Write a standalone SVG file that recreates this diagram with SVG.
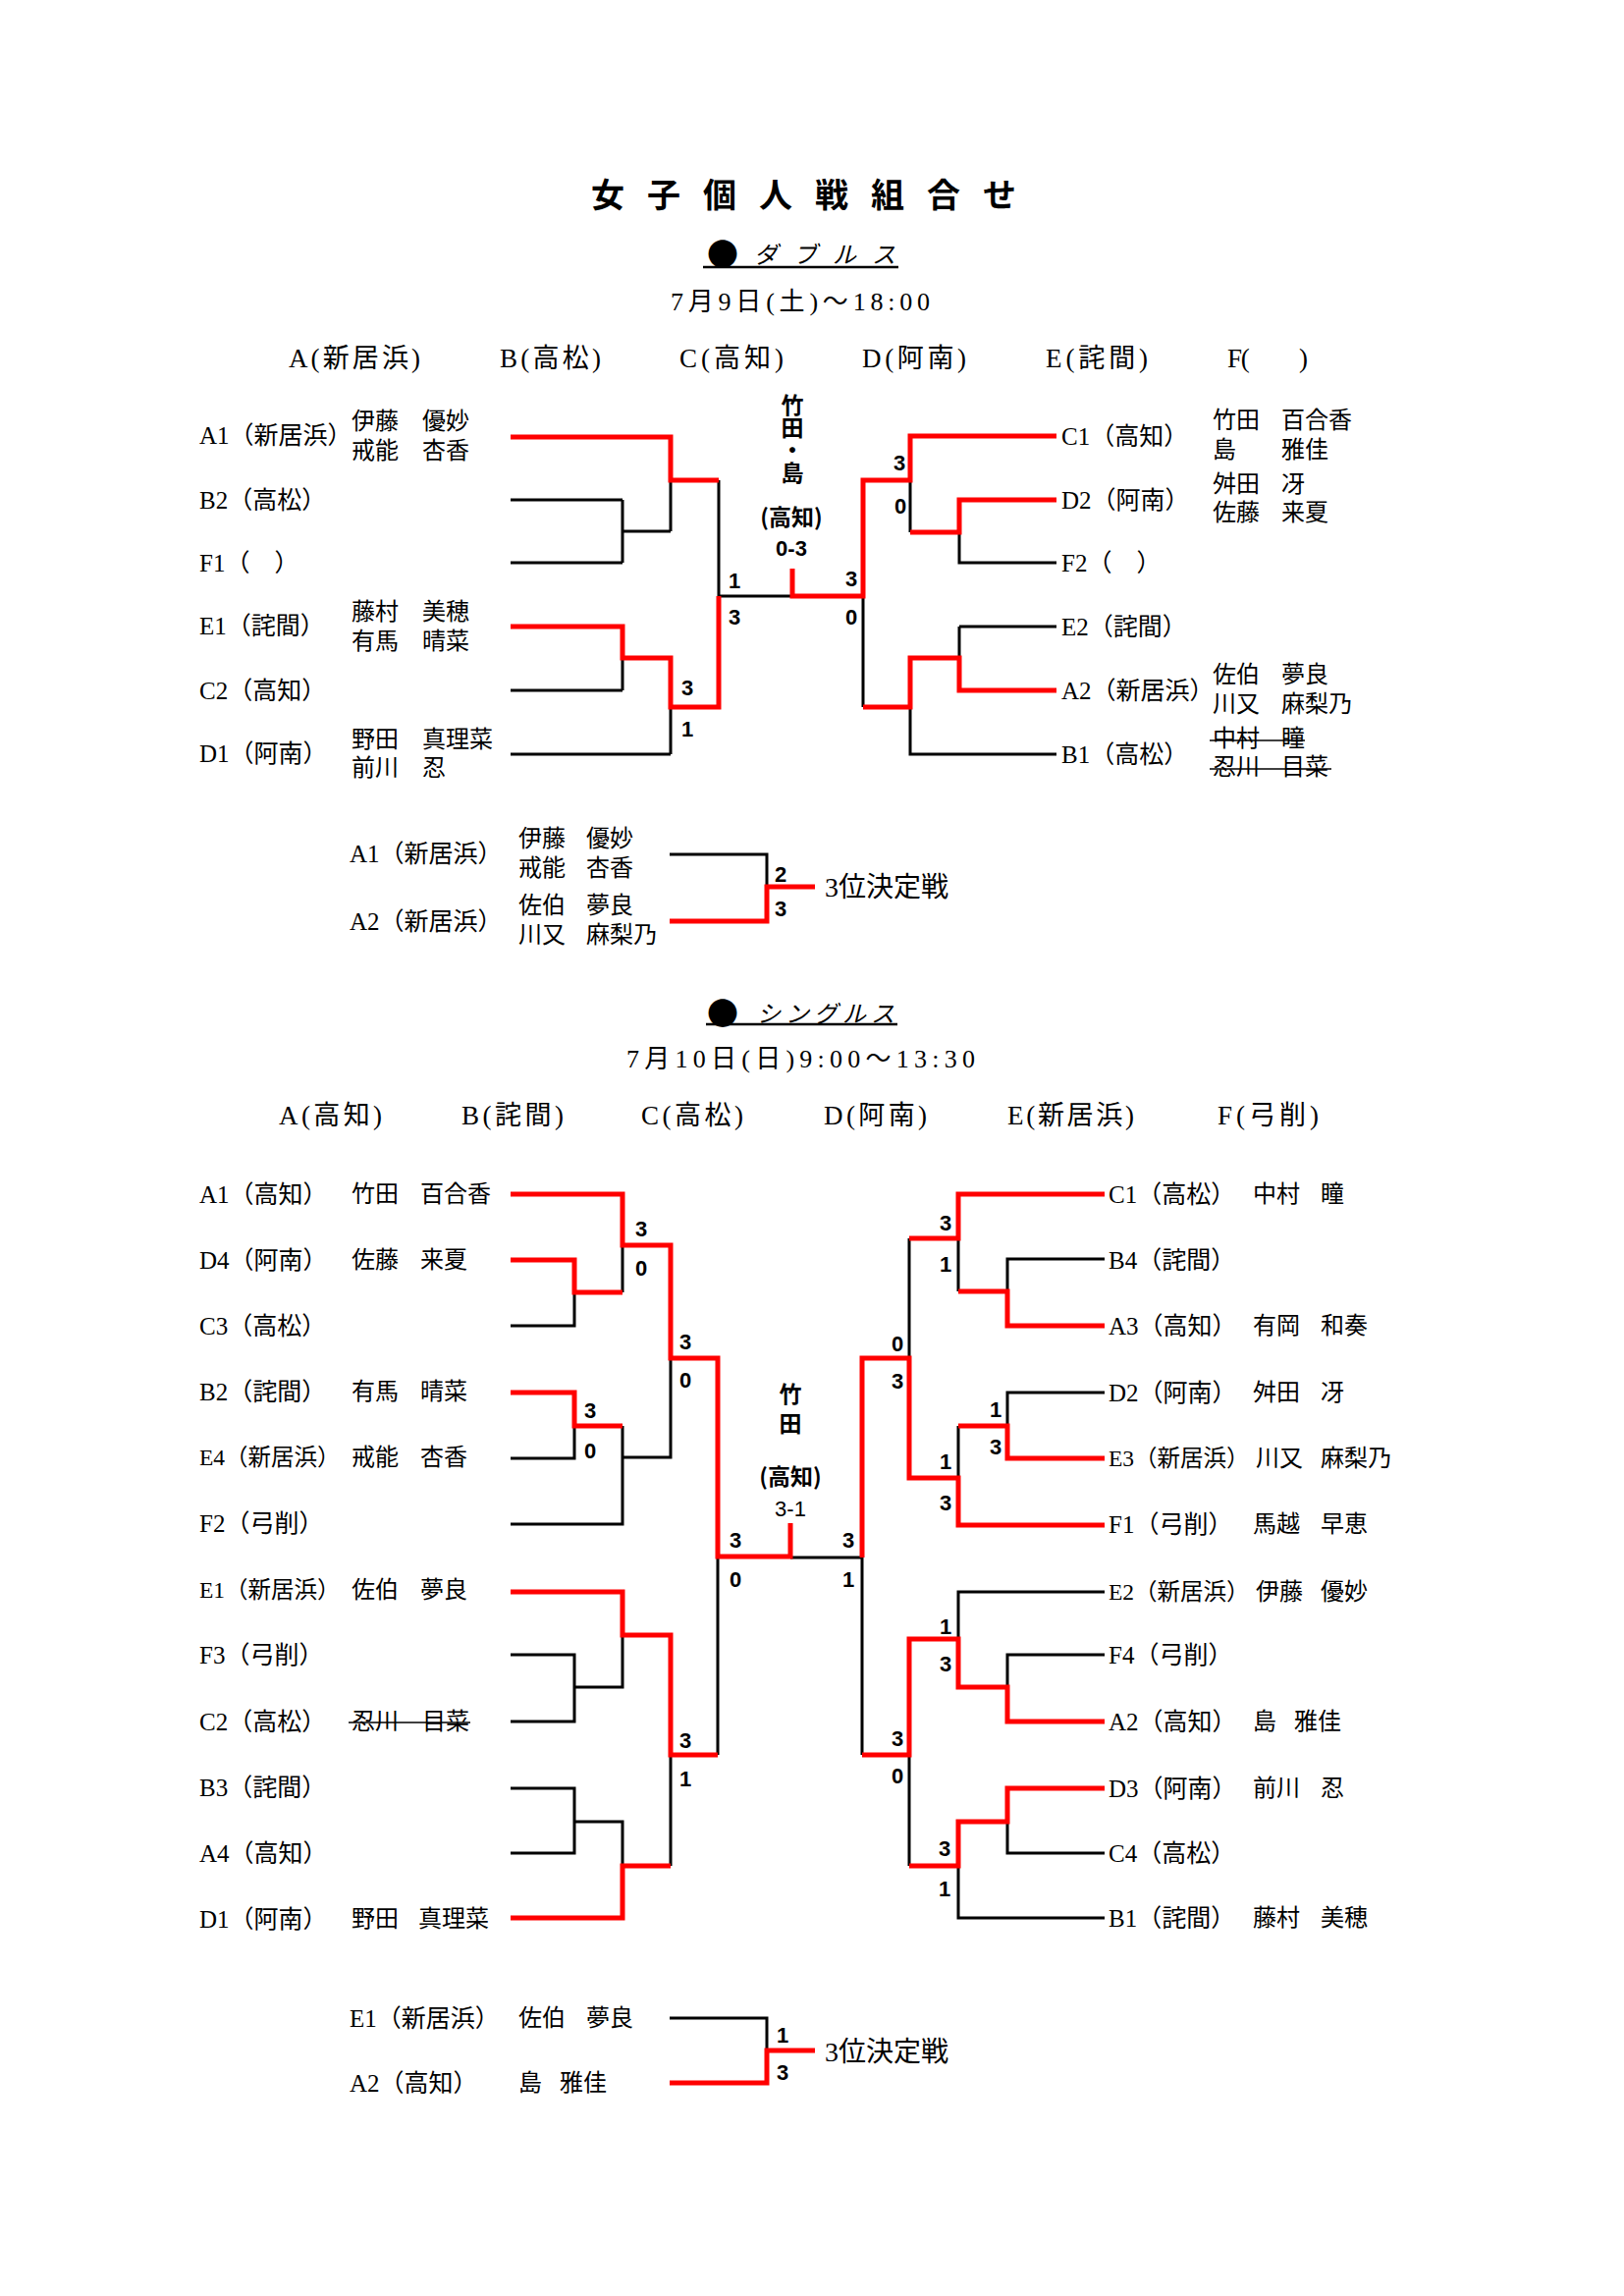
<svg xmlns="http://www.w3.org/2000/svg" width="1654" height="2338" viewBox="0 0 1654 2338">
<style>
text{font-family:"Liberation Serif","Noto Sans CJK JP",serif;fill:#000;dominant-baseline:central}
.lbl{font-size:25px}
.lbs{font-size:23.5px}
.nm{font-size:24px}
.hd{font-size:27px}
.dt{font-size:26px}
.sc{font-family:"Liberation Sans","Noto Sans CJK JP",sans-serif;font-weight:bold;font-size:22px;text-anchor:middle}
.ch{font-family:"Noto Sans CJK JP",sans-serif;font-weight:bold;font-size:23px;text-anchor:middle}
.vt{font-family:"Noto Sans CJK JP",sans-serif;font-weight:bold;font-size:23px;writing-mode:vertical-rl}
.k{fill:none;stroke:#000;stroke-width:3}
.r{fill:none;stroke:#f00;stroke-width:5}
.st{stroke:#000;stroke-width:1.6}
.sub{font-family:"Noto Sans CJK JP",sans-serif;font-size:24px;font-style:italic}
.dot{font-family:"Noto Sans CJK JP",sans-serif;font-size:32px}
.big{font-size:28px}
</style>
<rect width="1654" height="2338" fill="#fff"/>
<g id="header">
<text x="602" y="196" style="font-family:'Noto Sans CJK JP',sans-serif;font-weight:bold;font-size:34px;letter-spacing:23px">女子個人戦組合せ</text>
<text y="257"><tspan x="720" class="dot">●</tspan><tspan x="768" class="sub" style="letter-spacing:16px">ダブルス</tspan></text>
<line x1="716" y1="272" x2="915" y2="272" stroke="#000" stroke-width="2.5"/>
<text class="dt" x="683" y="307" textLength="264">7月9日(土)〜18:00</text>
<text class="hd" x="294" y="365" textLength="134">A(新居浜)</text>
<text class="hd" x="509" y="365" textLength="103">B(高松)</text>
<text class="hd" x="692" y="365" textLength="106">C(高知)</text>
<text class="hd" x="878" y="365" textLength="106">D(阿南)</text>
<text class="hd" x="1065" y="365" textLength="104">E(詫間)</text>
<text class="hd" x="1250" y="365" textLength="82">F(　　)</text>
<text y="1030"><tspan x="720" class="dot">●</tspan><tspan x="771" class="sub" style="letter-spacing:5px">シングルス</tspan></text>
<line x1="719" y1="1043" x2="914" y2="1043" stroke="#000" stroke-width="2.5"/>
<text class="dt" x="638" y="1078" textLength="355">7月10日(日)9:00〜13:30</text>
<text class="hd" x="284" y="1136" textLength="105">A(高知)</text>
<text class="hd" x="470" y="1136" textLength="104">B(詫間)</text>
<text class="hd" x="653" y="1136" textLength="104">C(高松)</text>
<text class="hd" x="839" y="1136" textLength="105">D(阿南)</text>
<text class="hd" x="1026" y="1136" textLength="129">E(新居浜)</text>
<text class="hd" x="1240" y="1136" textLength="103">F(弓削)</text>
</g>
<g id="connectors">
<path class="k" d="M520,509H634M520,573H634M634,509V573M634,541H683M683,489V541M732,489V607M732,607H807M520,703H634M634,670V703M520,768H683M683,720V768M927,489V542M977,542V573H1076M879,607V720M977,638V670M977,638H1076M927,720V768H1076M682,870H781V903"/>
<path class="r" d="M520,445H683V489H732M520,638H634V670H683V720H732V607M807,579V607H879V489H927V444H1076M1076,509H977V542H927M1076,703H977V670H927V720H879M830,903H781V938H682"/>
<path class="k" d="M520,1350H585V1316M634,1268V1316M520,1485H585V1452M520,1552H634V1452M634,1484H683V1383M520,1685H585V1753H520M585,1718H634V1665M520,1821H585V1887H520M585,1855H634V1900M683,1787V1900M731,1585V1787M805,1586H878M926,1261V1383M1125,1282H1026V1315M976,1261V1315M1125,1418H1026V1452M976,1452V1505M1125,1621H976V1669M1125,1685H1026V1718M878,1586V1787M926,1787V1900M1125,1887H1026V1855M1125,1953H976V1900M682,2055H781V2088"/>
<path class="r" d="M520,1216H634V1268H683V1383H731V1585H805V1551M520,1283H585V1316H634M520,1418H585V1452H634M520,1621H634V1665H683V1787H731M520,1953H634V1900H683M1125,1216H976V1261H926M1125,1350H1026V1315H976M1125,1485H1026V1452H976M1125,1553H976V1505H926V1383H878V1586M1125,1753H1026V1718H976V1669H926V1787H878M1125,1821H1026V1855H976V1900H926M830,2088H781V2121H682"/>
</g>
<g id="scores">
<text class="sc" x="748" y="591">1</text><text class="sc" x="748" y="628">3</text>
<text class="sc" x="700" y="700">3</text><text class="sc" x="700" y="742">1</text>
<text class="sc" x="916" y="471">3</text><text class="sc" x="917" y="515">0</text>
<text class="sc" x="867" y="589">3</text><text class="sc" x="867" y="628">0</text>
<text class="sc" x="795" y="890">2</text><text class="sc" x="795" y="925">3</text>
<text class="sc" x="653" y="1251">3</text><text class="sc" x="653" y="1291">0</text>
<text class="sc" x="698" y="1366">3</text><text class="sc" x="698" y="1405">0</text>
<text class="sc" x="601" y="1436">3</text><text class="sc" x="601" y="1477">0</text>
<text class="sc" x="749" y="1568">3</text><text class="sc" x="749" y="1608">0</text>
<text class="sc" x="698" y="1772">3</text><text class="sc" x="698" y="1811">1</text>
<text class="sc" x="963" y="1245">3</text><text class="sc" x="963" y="1287">1</text>
<text class="sc" x="914" y="1368">0</text><text class="sc" x="914" y="1406">3</text>
<text class="sc" x="1014" y="1435">1</text><text class="sc" x="1014" y="1473">3</text>
<text class="sc" x="963" y="1488">1</text><text class="sc" x="963" y="1530">3</text>
<text class="sc" x="864" y="1568">3</text><text class="sc" x="864" y="1608">1</text>
<text class="sc" x="963" y="1656">1</text><text class="sc" x="963" y="1694">3</text>
<text class="sc" x="914" y="1770">3</text><text class="sc" x="914" y="1808">0</text>
<text class="sc" x="962" y="1882">3</text><text class="sc" x="962" y="1923">1</text>
<text class="sc" x="797" y="2072">1</text><text class="sc" x="797" y="2110">3</text>
</g>
<g id="d-champion">
<text class="vt" x="807" y="401">竹田・島</text>
<text class="ch" x="806" y="525">(高知)</text>
<text class="sc" x="806" y="558">0-3</text>
</g>
<g id="s-champion">
<text class="vt" x="805" y="1408" style="letter-spacing:7px">竹田</text>
<text class="ch" x="805" y="1502">(高知)</text>
<text class="sc" x="805" y="1536" style="font-weight:normal">3-1</text>
</g>
<g id="d-A1"><text class="lbl" x="203" y="443">A1（新居浜）</text><text class="nm" y="429"><tspan x="358">伊藤 </tspan><tspan x="430">優妙</tspan></text><text class="nm" y="459"><tspan x="358">戒能 </tspan><tspan x="430">杏香</tspan></text></g>
<g id="d-B2"><text class="lbl" x="203" y="509">B2（高松）</text></g>
<g id="d-F1"><text class="lbl" x="203" y="573">F1（　）</text></g>
<g id="d-E1"><text class="lbl" x="203" y="637">E1（詫間）</text><text class="nm" y="623"><tspan x="358">藤村 </tspan><tspan x="430">美穂</tspan></text><text class="nm" y="653"><tspan x="358">有馬 </tspan><tspan x="430">晴菜</tspan></text></g>
<g id="d-C2"><text class="lbl" x="203" y="703">C2（高知）</text></g>
<g id="d-D1"><text class="lbl" x="203" y="767">D1（阿南）</text><text class="nm" y="753"><tspan x="358">野田 </tspan><tspan x="430">真理菜</tspan></text><text class="nm" y="782"><tspan x="358">前川 </tspan><tspan x="430">忍</tspan></text></g>
<g id="d-C1"><text class="lbl" x="1081" y="444">C1（高知）</text><text class="nm" y="428"><tspan x="1235">竹田 </tspan><tspan x="1305">百合香</tspan></text><text class="nm" y="458"><tspan x="1235">島 </tspan><tspan x="1305">雅佳</tspan></text></g>
<g id="d-D2"><text class="lbl" x="1081" y="509">D2（阿南）</text><text class="nm" y="493"><tspan x="1235">舛田 </tspan><tspan x="1305">冴</tspan></text><text class="nm" y="522"><tspan x="1235">佐藤 </tspan><tspan x="1305">来夏</tspan></text></g>
<g id="d-F2"><text class="lbl" x="1081" y="573">F2（　）</text></g>
<g id="d-E2"><text class="lbl" x="1081" y="638">E2（詫間）</text></g>
<g id="d-A2"><text class="lbl" x="1081" y="703">A2（新居浜）</text><text class="nm" y="687"><tspan x="1235">佐伯 </tspan><tspan x="1305">夢良</tspan></text><text class="nm" y="717"><tspan x="1235">川又 </tspan><tspan x="1305">麻梨乃</tspan></text></g>
<g id="d-B1"><text class="lbl" x="1081" y="768">B1（高松）</text><text class="nm" y="752"><tspan x="1235">中村 </tspan><tspan x="1305">瞳</tspan></text><text class="nm" y="781"><tspan x="1235">忍川 </tspan><tspan x="1305">目菜</tspan></text><line class="st" x1="1232" y1="754" x2="1329" y2="754"/><line class="st" x1="1232" y1="783" x2="1356" y2="783"/></g>
<g id="d-third">
<text class="lbl" x="356" y="869">A1（新居浜）</text><text class="nm" y="854"><tspan x="528">伊藤 </tspan><tspan x="597">優妙</tspan></text><text class="nm" y="884"><tspan x="528">戒能 </tspan><tspan x="597">杏香</tspan></text>
<text class="lbl" x="356" y="938">A2（新居浜）</text><text class="nm" y="922"><tspan x="528">佐伯 </tspan><tspan x="597">夢良</tspan></text><text class="nm" y="952"><tspan x="528">川又 </tspan><tspan x="597">麻梨乃</tspan></text>
<text class="big" x="840" y="903">3位決定戦</text>
</g>
<g id="s-A1"><text class="lbl" x="203" y="1216">A1（高知）</text><text class="nm" y="1216"><tspan x="358">竹田 </tspan><tspan x="428">百合香</tspan></text></g>
<g id="s-D4"><text class="lbl" x="203" y="1283">D4（阿南）</text><text class="nm" y="1283"><tspan x="358">佐藤 </tspan><tspan x="428">来夏</tspan></text></g>
<g id="s-C3"><text class="lbl" x="203" y="1350">C3（高松）</text></g>
<g id="s-B2"><text class="lbl" x="203" y="1417">B2（詫間）</text><text class="nm" y="1417"><tspan x="358">有馬 </tspan><tspan x="428">晴菜</tspan></text></g>
<g id="s-E4"><text class="lbs" x="203" y="1484">E4（新居浜）</text><text class="nm" y="1484"><tspan x="358">戒能 </tspan><tspan x="428">杏香</tspan></text></g>
<g id="s-F2"><text class="lbl" x="203" y="1551">F2（弓削）</text></g>
<g id="s-E1"><text class="lbs" x="203" y="1619">E1（新居浜）</text><text class="nm" y="1619"><tspan x="358">佐伯 </tspan><tspan x="428">夢良</tspan></text></g>
<g id="s-F3"><text class="lbl" x="203" y="1685">F3（弓削）</text></g>
<g id="s-C2"><text class="lbl" x="203" y="1753">C2（高松）</text><text class="nm" y="1753"><tspan x="358">忍川 </tspan><tspan x="430">目菜</tspan></text><line class="st" x1="355" y1="1754" x2="479" y2="1754"/></g>
<g id="s-B3"><text class="lbl" x="203" y="1820">B3（詫間）</text></g>
<g id="s-A4"><text class="lbl" x="203" y="1887">A4（高知）</text></g>
<g id="s-D1"><text class="lbl" x="203" y="1954">D1（阿南）</text><text class="nm" y="1954"><tspan x="358">野田 </tspan><tspan x="426">真理菜</tspan></text></g>
<g id="s-C1"><text class="lbl" x="1129" y="1216">C1（高松）</text><text class="nm" y="1216"><tspan x="1276">中村 </tspan><tspan x="1345">瞳</tspan></text></g>
<g id="s-B4"><text class="lbl" x="1129" y="1283">B4（詫間）</text></g>
<g id="s-A3"><text class="lbl" x="1129" y="1350">A3（高知）</text><text class="nm" y="1350"><tspan x="1276">有岡 </tspan><tspan x="1345">和奏</tspan></text></g>
<g id="s-D2"><text class="lbl" x="1129" y="1418">D2（阿南）</text><text class="nm" y="1418"><tspan x="1276">舛田 </tspan><tspan x="1345">冴</tspan></text></g>
<g id="s-E3"><text class="lbs" x="1129" y="1485">E3（新居浜）</text><text class="nm" y="1485"><tspan x="1279">川又 </tspan><tspan x="1345">麻梨乃</tspan></text></g>
<g id="s-F1"><text class="lbl" x="1129" y="1552">F1（弓削）</text><text class="nm" y="1552"><tspan x="1276">馬越 </tspan><tspan x="1345">早恵</tspan></text></g>
<g id="s-E2"><text class="lbs" x="1129" y="1621">E2（新居浜）</text><text class="nm" y="1621"><tspan x="1279">伊藤 </tspan><tspan x="1345">優妙</tspan></text></g>
<g id="s-F4"><text class="lbl" x="1129" y="1685">F4（弓削）</text></g>
<g id="s-A2"><text class="lbl" x="1129" y="1753">A2（高知）</text><text class="nm" y="1753"><tspan x="1276">島 </tspan><tspan x="1318">雅佳</tspan></text></g>
<g id="s-D3"><text class="lbl" x="1129" y="1821">D3（阿南）</text><text class="nm" y="1821"><tspan x="1276">前川 </tspan><tspan x="1345">忍</tspan></text></g>
<g id="s-C4"><text class="lbl" x="1129" y="1887">C4（高松）</text></g>
<g id="s-B1"><text class="lbl" x="1129" y="1953">B1（詫間）</text><text class="nm" y="1953"><tspan x="1276">藤村 </tspan><tspan x="1345">美穂</tspan></text></g>
<g id="s-third">
<text class="lbl" x="356" y="2055">E1（新居浜）</text><text class="nm" y="2055"><tspan x="528">佐伯 </tspan><tspan x="597">夢良</tspan></text>
<text class="lbl" x="356" y="2121">A2（高知）</text><text class="nm" y="2121"><tspan x="528">島 </tspan><tspan x="570">雅佳</tspan></text>
<text class="big" x="840" y="2089">3位決定戦</text>
</g>
</svg>
